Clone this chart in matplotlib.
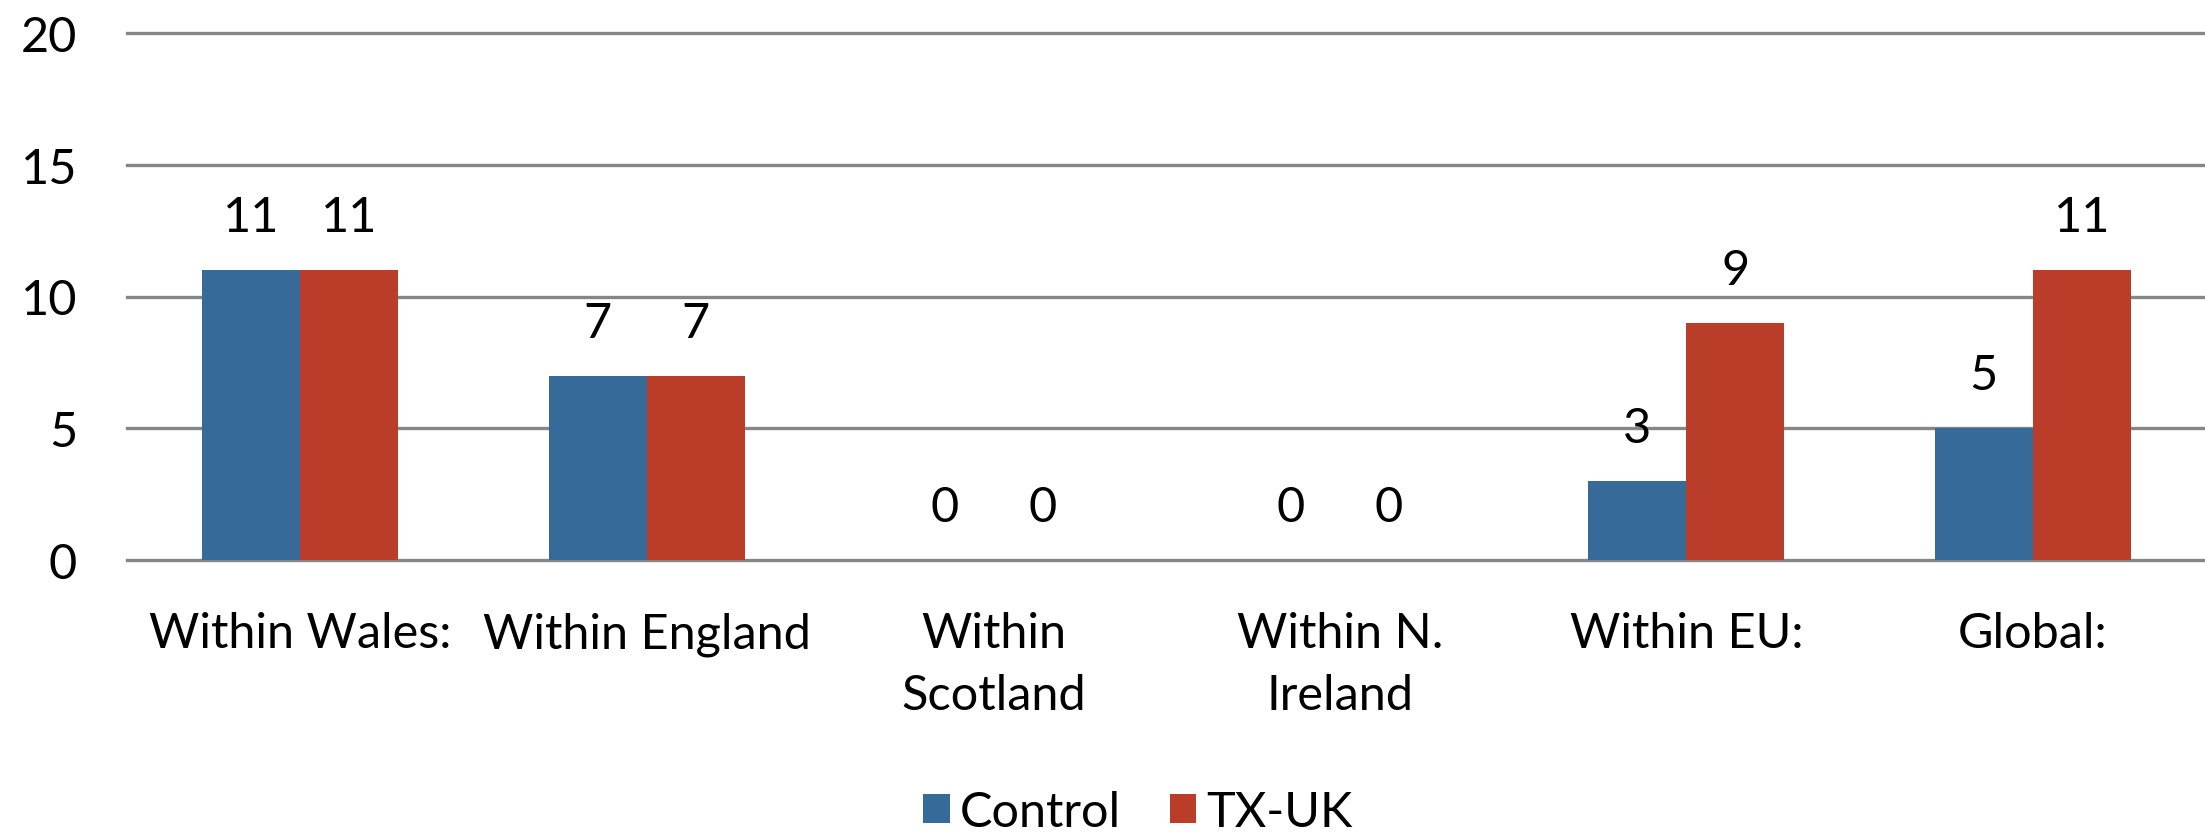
import matplotlib
matplotlib.use("Agg")
import matplotlib.pyplot as plt
import numpy as np

categories = ["Within Wales:", "Within England", "Within\nScotland",
              "Within N.\nIreland", "Within EU:", "Global:"]
control = [11, 7, 0, 0, 3, 5]
txuk = [11, 7, 0, 0, 9, 11]
series_names = ["Control", "TX-UK"]
colors = ["#366A99", "#BA3D2A"]
yticks = [0, 5, 10, 15, 20]

plt.rcParams['font.family'] = ['Lato', 'DejaVu Sans']
FS = 35

W, H = 2205, 837
fig = plt.figure(figsize=(W / 100, H / 100), dpi=100)
left, right = 127 / W, 2206 / W
bottom, top = 1 - 561 / H, 1 - 34 / H
ax = fig.add_axes([left, bottom, right - left, top - bottom])

x = np.arange(len(categories))
bw = 0.283
b1 = ax.bar(x - bw / 2, control, bw, color=colors[0], label=series_names[0], zorder=3)
b2 = ax.bar(x + bw / 2, txuk, bw, color=colors[1], label=series_names[1], zorder=3)

for xs, vals in ((x - bw / 2, control), (x + bw / 2, txuk)):
    for xi, v in zip(xs, vals):
        ax.annotate(str(v), (xi, v), xytext=(0, 38), textcoords='offset points',
                    ha='center', va='center', fontsize=FS, color='black')

ax.set_xlim(-0.5, len(categories) - 0.5)
ax.set_ylim(0, 20)
ax.set_yticks(yticks)
ax.set_yticklabels([str(t) for t in yticks], fontsize=FS)
ax.set_xticks(x)
ax.set_xticklabels(categories, fontsize=FS, linespacing=1.5)
ax.tick_params(axis='y', length=0, pad=36)
ax.tick_params(axis='x', length=0, pad=37)
for s in ax.spines.values():
    s.set_visible(False)
ax.yaxis.grid(True, color='#868686', linewidth=2.4, zorder=0)
ax.set_axisbelow(True)
for gl in ax.get_ygridlines():
    gl.set_clip_on(False)

fig.legend(handles=[b1, b2], labels=series_names, loc='center',
           bbox_to_anchor=(1138 / W, 1 - 813 / H), ncol=2, frameon=False,
           fontsize=FS, handlelength=0.55, handleheight=0.55,
           handletextpad=0.2, columnspacing=1.0, borderpad=0, borderaxespad=0)

fig.savefig("out.png", dpi=100)
